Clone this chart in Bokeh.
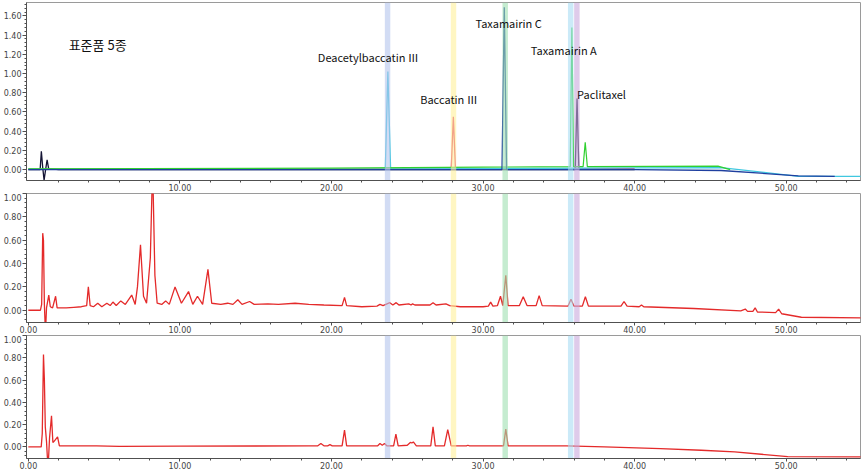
from bokeh.plotting import figure
from bokeh.layouts import column
from bokeh.models import FixedTicker, NumeralTickFormatter, Range1d, ColumnDataSource
from bokeh.embed import file_html
from bokeh.resources import INLINE
from bokeh.core.properties import value

# ---------------- data ----------------
# Panel 1: standards (retention time [min], absorbance)
ptx_t = [0, 0.78, 0.86, 0.95, 1.04, 1.14, 1.24, 1.34, 2.0, 36.08, 36.2, 36.32, 40.0]
ptx_v = [0, 0.0, 0.19, 0.02, -0.11, 0.0, 0.10, 0.01, 0.0, 0.0, 0.74, 0.0, 0.0]

b3_t = [0, 27.9, 28.04, 28.18, 40.0]
b3_v = [0.003, 0.005, 0.55, 0.005, 0.01]

dab_t = [0, 23.55, 23.72, 23.9, 30.0, 40.0, 45.7, 50.8, 55.0]
dab_v = [0.003, 0.005, 1.02, 0.008, 0.01, 0.017, 0.02, -0.07, -0.07]

ta_t = [0, 20.0, 30.0, 35.75, 35.86, 35.97, 36.6, 36.74, 36.88, 45.5, 46.3]
ta_v = [0.008, 0.015, 0.025, 0.03, 1.48, 0.03, 0.03, 0.285, 0.03, 0.035, 0.0]

tc_t = [0, 31.25, 31.4, 31.55, 40.0, 45.7, 50.8, 53.2]
tc_v = [0.0, 0.0, 1.69, 0.0, 0.0, -0.01, -0.065, -0.07]

# Panel 2: sample chromatogram 1
s1_t = [0, 0.8, 0.88, 0.95, 1.0, 1.06, 1.13, 1.2, 1.35, 1.45, 1.6, 1.8, 1.9, 2.5, 3.0,
        3.5, 3.85, 3.96, 4.08, 4.3, 4.58, 4.85, 5.18, 5.4, 5.58, 5.8, 6.1, 6.4, 6.82,
        7.05, 7.2, 7.4, 7.6, 7.8, 8.05, 8.2, 8.35, 8.5, 8.8, 9.06, 9.3, 9.68, 10.1,
        10.57, 10.85, 11.16, 11.5, 11.85, 12.1, 12.7, 13.15, 13.5, 13.82, 14.1, 14.6,
        14.9, 15.8, 16.5, 17.6, 18.5, 19.5, 20.7, 20.86, 21.0, 22.0, 23.0, 23.2, 23.4,
        23.85, 24.05, 24.27, 24.45, 25.1, 25.25, 25.35, 25.5, 26.5, 26.7, 26.9, 27.55,
        27.8, 28.5, 30.0, 30.35, 30.5, 30.65, 30.95, 31.15, 31.3, 31.5, 31.65, 32.4,
        32.65, 32.9, 33.5, 33.7, 33.9, 35.6, 35.8, 36.0, 36.55, 36.75, 36.95, 38.0,
        39.1, 39.3, 39.5, 40.3, 40.45, 40.6, 43.9, 47.0, 47.3, 47.45, 47.8, 47.95,
        48.1, 49.3, 49.5, 49.7, 51.0, 55.0]
s1_v = [0, 0, 0.05, 0.66, 0.6, 0.05, -0.2, 0.02, 0.13, 0.03, 0.02, 0.12, 0.02, 0.02, 0.025,
        0.03, 0.04, 0.2, 0.04, 0.03, 0.06, 0.03, 0.06, 0.04, 0.07, 0.04, 0.08, 0.05, 0.13,
        0.05, 0.2, 0.56, 0.12, 0.06, 0.45, 1.25, 0.3, 0.06, 0.05, 0.08, 0.05, 0.2, 0.06,
        0.16, 0.05, 0.12, 0.05, 0.35, 0.06, 0.05, 0.06, 0.05, 0.09, 0.05, 0.075,
        0.05, 0.055, 0.05, 0.06, 0.05, 0.045, 0.04, 0.11, 0.04, 0.03, 0.035, 0.05, 0.04,
        0.065, 0.045, 0.065, 0.045, 0.055, 0.045, 0.055, 0.045, 0.045, 0.065, 0.045, 0.055,
        0.04, 0.03, 0.03, 0.035, 0.07, 0.035, 0.04, 0.12, 0.04, 0.3, 0.04, 0.04,
        0.115, 0.04, 0.04, 0.125, 0.04, 0.035, 0.095, 0.035, 0.035, 0.115, 0.035, 0.035,
        0.035, 0.075, 0.035, 0.03, 0.045, 0.03, 0.015, -0.005, 0.01, -0.01, -0.01, 0.02,
        -0.015, -0.02, 0.01, -0.03, -0.06, -0.065]

# Panel 3: sample chromatogram 2
s2_t = [0, 0.85, 0.92, 1.0, 1.06, 1.12, 1.2, 1.3, 1.4, 1.53, 1.62, 1.7, 1.93, 2.05, 2.6,
        4.5, 6.0, 10.0, 15.0, 18.5, 19.1, 19.3, 19.5, 19.75, 19.9, 20.05, 20.7, 20.86,
        21.0, 23.05, 23.2, 23.35, 23.5, 23.65, 24.1, 24.25, 24.4, 25.0, 25.2, 25.3, 25.4,
        25.6, 26.55, 26.7, 26.85, 27.45, 27.67, 27.9, 28.9, 29.0, 29.1, 31.35, 31.5,
        31.65, 35.5, 38.0, 41.7, 44.4, 46.6, 50.1, 55.0]
s2_v = [0, 0, 0.12, 0.83, 0.6, 0.18, 0.05, -0.2, 0.08, 0.28, 0.04, 0.05, 0.09, 0.01, 0.01,
        0.01, 0.005, 0.007, 0.008, 0.01, 0.01, 0.03, 0.01, 0.01, 0.02, 0.01, 0.01, 0.15,
        0.01, 0.01, 0.03, 0.015, 0.03, 0.01, 0.01, 0.115, 0.01, 0.015, 0.04, 0.035, 0.045,
        0.01, 0.01, 0.18, 0.01, 0.01, 0.155, 0.01, 0.01, 0.015, 0.01, 0.01, 0.16,
        0.01, 0.01, 0.0, -0.015, -0.03, -0.045, -0.087, -0.09]

# Marker bands: retention times of the five standards
band_rt = [23.7, 28.05, 31.46, 35.78, 36.19]
band_colors = ["#b4c4ec", "#fff09a", "#9ee0b0", "#a8dcf4", "#c8a8dc"]

# Labels in panel 1
label_text = ["표준품 5종", "Deacetylbaccatin Ⅲ", "Baccatin Ⅲ", "Taxamairin C",
              "Taxamairin A", "Paclitaxel"]
label_x = [2.66, 19.1, 25.85, 29.5, 33.15, 36.2]
label_y = [1.30, 1.17, 0.735, 1.53, 1.245, 0.79]
label_size = ["13px", "11px", "11px", "11px", "11px", "11px"]

x_major_1 = [10, 20, 30, 40, 50]
x_major_23 = [0, 10, 20, 30, 40, 50]
x_minor = list(range(2, 56, 2))


def style(p, xticks, yticks):
    p.xgrid.visible = False
    p.ygrid.visible = False
    p.outline_line_color = "#9a9a9a"
    p.background_fill_color = "white"
    p.border_fill_color = "white"
    p.xaxis.ticker = FixedTicker(ticks=xticks, minor_ticks=x_minor)
    ymin = [round(-0.08 + 0.04 * i, 2) for i in range(int((yticks[-1] + 0.2) / 0.04) + 3)]
    p.yaxis.ticker = FixedTicker(ticks=yticks, minor_ticks=ymin)
    for ax in (p.xaxis[0], p.yaxis[0]):
        ax.formatter = NumeralTickFormatter(format="0.00")
        ax.axis_line_color = "#505050"
        ax.major_tick_line_color = "#505050"
        ax.minor_tick_line_color = "#505050"
        ax.major_tick_out = 4
        ax.major_tick_in = 0
        ax.minor_tick_out = 2
        ax.minor_tick_in = 0
        ax.major_label_text_font = "DejaVu Sans"
        ax.major_label_text_font_size = "8px"
        ax.major_label_text_color = "#444444"
        ax.major_label_standoff = 1
    p.xaxis[0].major_tick_out = 3
    p.xaxis[0].major_label_standoff = 0


def add_bands(p):
    src = ColumnDataSource(dict(x=band_rt, c=band_colors))
    p.vbar(x="x", width=0.36, bottom=-5, top=5, fill_color="c", line_color=None,
           fill_alpha=0.6, source=src)


common = dict(width=862, x_range=Range1d(-0.12, 54.9), output_backend="svg",
              toolbar_location=None, min_border_left=24, min_border_right=2,
              min_border_bottom=10)

# Panel 1
p1 = figure(height=193, y_range=Range1d(-0.114, 1.74), min_border_top=2, **common)
style(p1, x_major_1, [0, 0.2, 0.4, 0.6, 0.8, 1.0, 1.2, 1.4, 1.6])
p1.line(ptx_t, ptx_v, line_color="#151535", line_width=1.3)
p1.line(b3_t, b3_v, line_color="#e0306a", line_width=1.3)
p1.line(dab_t, dab_v, line_color="#40c8e0", line_width=1.3)
p1.line(ta_t, ta_v, line_color="#30d030", line_width=1.2)
p1.line(tc_t, tc_v, line_color="#1f3f9f", line_width=1.3)
add_bands(p1)
lsrc = ColumnDataSource(dict(x=label_x, y=label_y, t=label_text, s=label_size))
p1.text(x="x", y="y", text="t", text_font_size="s", source=lsrc,
        text_font=value("Noto Sans CJK KR"), text_color="#111111",
        text_align="left", text_baseline="middle")

# Panel 2
p2 = figure(height=142, y_range=Range1d(-0.105, 1.0), min_border_top=0, **common)
style(p2, x_major_23, [0, 0.2, 0.4, 0.6, 0.8, 1.0])
p2.line(s1_t, s1_v, line_color="#e42a2a", line_width=1.3)
add_bands(p2)

# Panel 3
p3 = figure(height=136, y_range=Range1d(-0.104, 1.0), min_border_top=0, **common)
style(p3, x_major_23, [0, 0.2, 0.4, 0.6, 0.8, 1.0])
p3.line(s2_t, s2_v, line_color="#e42a2a", line_width=1.3)
add_bands(p3)

layout = column(p1, p2, p3, spacing=0)
open("out.html", "w").write(file_html(layout, INLINE))
